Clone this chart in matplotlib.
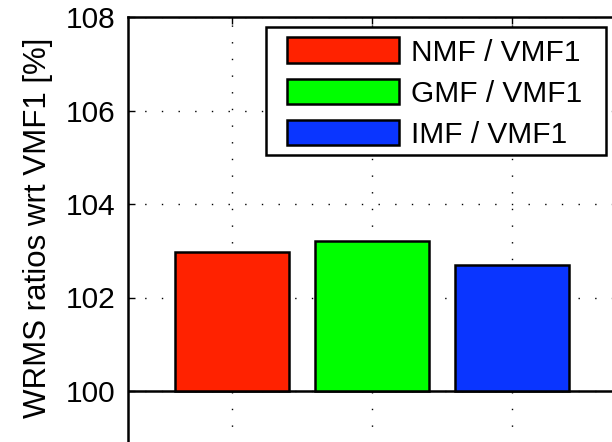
import matplotlib.pyplot as plt
from matplotlib.patches import Rectangle

# values
labels = ['NMF / VMF1', 'GMF / VMF1', 'IMF / VMF1']
ratios = [102.97, 103.21, 102.70]
colors = ['#ff2200', '#00ff00', '#0a35ff']
positions = [1, 2, 3]
yticks = [100, 102, 104, 106, 108]

plt.rcParams['font.family'] = ['Liberation Sans', 'DejaVu Sans']

fig = plt.figure(figsize=(6.12, 4.42), dpi=100)
# axes runs past the bottom and right edges (the original was cropped)
xmin, xmax = 1 - 104 / 140, 3 + 110 / 140
ax = fig.add_axes([128 / 612, -42.5 / 442, (xmax - xmin) * 140 / 612, 467.5 / 442])

ax.set_xlim(xmin, xmax)
ax.set_ylim(98, 108)

ax.grid(True, color='black', linestyle=(0, (1, 11)), linewidth=1.0)
ax.set_axisbelow(True)
ax.axhline(100, color='black', linewidth=1.8, zorder=1)

bars = ax.bar(positions, [r - 100 for r in ratios], bottom=100, width=0.81,
              color=colors, edgecolor='black', linewidth=1.8, zorder=2)

ax.set_xticks(positions)
ax.set_xticklabels([])
ax.set_yticks(yticks)
ax.tick_params(axis='both', direction='in', length=5, width=1,
               labelsize=21.5, top=True, right=False, pad=9)
for side in ['left', 'top']:
    ax.spines[side].set_linewidth(1.8)
ax.spines['right'].set_visible(False)

ax.set_ylabel('WRMS ratios wrt VMF1 [%]', fontsize=22.5)
ax.yaxis.set_label_coords(-0.152, 0.549)

# legend: MATLAB style box, wider side padding than top/bottom
leg = ax.legend(bars, labels, loc='upper left', fontsize=21.5, frameon=False,
                handlelength=3.75, handleheight=0.95, handletextpad=0.4,
                labelspacing=0.4, borderpad=0.35, borderaxespad=0)
leg.set_bbox_to_anchor((277 / 612, 1 - 27 / 442), transform=fig.transFigure)
leg.set_zorder(6)
ax.add_patch(Rectangle((266 / 612, 1 - 155 / 442), 340 / 612, 128 / 442,
                       transform=fig.transFigure, facecolor='white',
                       edgecolor='black', linewidth=1.8, zorder=5, clip_on=False))

fig.savefig('out.png', dpi=100)
